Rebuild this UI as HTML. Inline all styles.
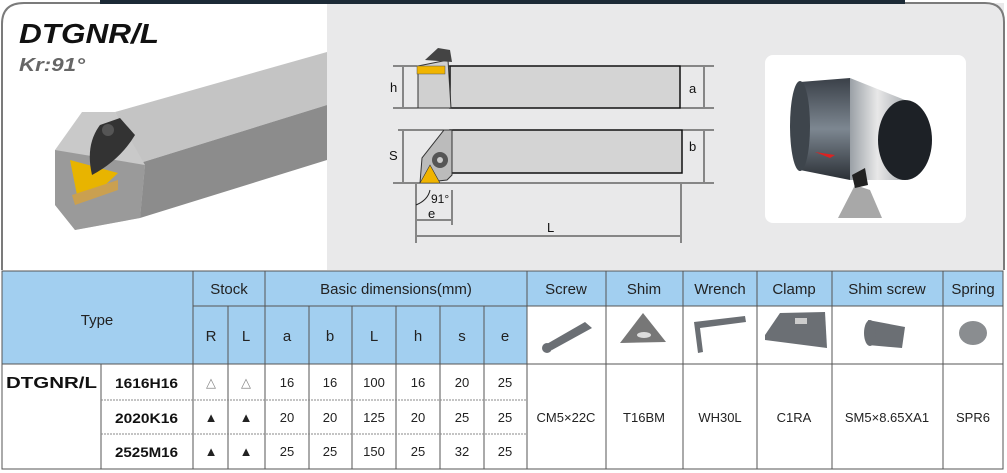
<!DOCTYPE html>
<html><head><meta charset="utf-8"><style>
html,body{margin:0;padding:0;background:#fff;}
body{width:1007px;height:473px;overflow:hidden;position:relative;font-family:"Liberation Sans",sans-serif;}
svg{position:absolute;left:0;top:0;}
</style></head><body>
<svg width="1007" height="473" viewBox="0 0 1007 473" font-family="Liberation Sans, sans-serif">
<defs>
<linearGradient id="cyl" x1="0" y1="0" x2="0" y2="1"><stop offset="0" stop-color="#3a4048"/><stop offset="0.5" stop-color="#7d8791"/><stop offset="1" stop-color="#2b3036"/></linearGradient>
<linearGradient id="cyl2" x1="0" y1="0" x2="1" y2="0"><stop offset="0" stop-color="#9aa0a6"/><stop offset="0.5" stop-color="#e8e8e8"/><stop offset="1" stop-color="#aeb2b6"/></linearGradient>
</defs>
<rect x="327" y="3" width="677" height="267" fill="#e9e9ea"/>
<path d="M2 270 V24 Q2 3 24 3 H327" fill="none" stroke="#7b7b7b" stroke-width="2"/>
<path d="M905 3 H985 Q1004 3 1004 22 V270" fill="none" stroke="#7b7b7b" stroke-width="2"/>
<rect x="100" y="0" width="805" height="4" fill="#1c2a36"/>
<text x="19" y="43" font-size="28" font-weight="bold" font-style="italic" fill="#111" textLength="140" lengthAdjust="spacingAndGlyphs">DTGNR/L</text>
<text x="19" y="71" font-size="18" font-weight="bold" font-style="italic" fill="#666" textLength="66" lengthAdjust="spacingAndGlyphs">Kr:91°</text>
<polygon points="115,112 327,52 327,105 140,163" fill="#c4c4c4"/>
<polygon points="140,163 327,105 327,160 140,218" fill="#8c8c8c"/>
<polygon points="55,150 82,112 115,112 145,165 140,218 75,230 55,205" fill="#c9c9c9"/>
<polygon points="55,150 145,165 140,218 75,230 55,205" fill="#9a9a9a"/>
<polygon points="70,160 118,173 100,190 78,200" fill="#e8b400"/>
<polygon points="72,195 118,180 118,190 75,205" fill="#caa050"/>
<path d="M92,175 Q85,145 100,125 L120,118 L135,135 Q120,160 92,175Z" fill="#333"/>
<circle cx="108" cy="130" r="6" fill="#555"/>
<g stroke="#222" stroke-width="1" fill="none">
<line x1="393" y1="66" x2="714" y2="66"/><line x1="393" y1="108" x2="714" y2="108"/>
<line x1="398" y1="130" x2="714" y2="130"/><line x1="393" y1="183" x2="714" y2="183"/>
<line x1="403" y1="67" x2="403" y2="107"/><line x1="704" y1="67" x2="704" y2="107"/>
<line x1="403" y1="131" x2="403" y2="182"/><line x1="704" y1="131" x2="704" y2="182"/>
<line x1="416" y1="184" x2="416" y2="243"/><line x1="681" y1="184" x2="681" y2="243"/>
<line x1="452" y1="190" x2="452" y2="225"/>
<line x1="417" y1="220" x2="451" y2="220"/><line x1="417" y1="236" x2="680" y2="236"/>
<path d="M416,205 Q428,200 430,190"/>
</g>
<rect x="450" y="66" width="230" height="42" fill="#d4d4d4" stroke="#111" stroke-width="1.5"/>
<polygon points="418,66 448,60 451,108 418,108" fill="#d0d0d0" stroke="#333"/>
<rect x="417" y="66" width="28" height="8" fill="#f0b400" stroke="#555" stroke-width="0.5"/>
<path d="M425,60 L438,48 L450,50 L452,62 Z" fill="#444"/>
<rect x="450" y="130" width="232" height="43" fill="#d4d4d4" stroke="#111" stroke-width="1.5"/>
<polygon points="444,130 452,130 452,175 447,180 420,183 422,158" fill="#bbb" stroke="#333"/>
<polygon points="420,183 430,165 440,183" fill="#f0b400" stroke="#333" stroke-width="0.6"/>
<circle cx="440" cy="160" r="8" fill="#555"/><circle cx="440" cy="160" r="3" fill="#ccc"/>
<g font-size="13" fill="#111">
<text x="390" y="92">h</text><text x="689" y="93">a</text>
<text x="389" y="160">S</text><text x="689" y="151">b</text>
<text x="431" y="203" font-size="12">91°</text><text x="428" y="218">e</text><text x="547" y="232">L</text>
</g>
<rect x="765" y="55" width="201" height="168" rx="8" fill="#fff"/>
<path d="M800,82 L850,78 L850,180 L800,170 Z" fill="url(#cyl)"/>
<ellipse cx="800" cy="126" rx="10" ry="45" fill="#3e454c"/>
<path d="M850,78 L905,100 L905,180 L850,180 Z" fill="url(#cyl2)"/>
<ellipse cx="905" cy="140" rx="27" ry="40" fill="#1d2126"/>
<polygon points="815,152 835,155 830,158" fill="#d22"/>
<polygon points="838,218 855,185 870,190 882,218" fill="#a8a8a8"/>
<polygon points="852,175 865,168 868,185 855,188" fill="#222"/>
<rect x="2" y="271" width="1001" height="93" fill="#a2cff0"/>
<rect x="527" y="306" width="476" height="58" fill="#fff"/>
<g stroke="#555" stroke-width="1">
<rect x="2" y="271" width="1001" height="198" fill="none"/>
<line x1="193" y1="306" x2="527" y2="306"/><line x1="527" y1="306" x2="1003" y2="306"/>
<line x1="2" y1="364" x2="1003" y2="364"/>
<line x1="193" y1="271" x2="193" y2="469"/><line x1="228" y1="306" x2="228" y2="469"/>
<line x1="265" y1="271" x2="265" y2="469"/>
<line x1="309" y1="306" x2="309" y2="469"/><line x1="352" y1="306" x2="352" y2="469"/>
<line x1="396" y1="306" x2="396" y2="469"/><line x1="440" y1="306" x2="440" y2="469"/>
<line x1="484" y1="306" x2="484" y2="469"/><line x1="527" y1="271" x2="527" y2="469"/>
<line x1="606" y1="271" x2="606" y2="469"/><line x1="683" y1="271" x2="683" y2="469"/>
<line x1="757" y1="271" x2="757" y2="469"/><line x1="832" y1="271" x2="832" y2="469"/>
<line x1="943" y1="271" x2="943" y2="469"/>
<line x1="101" y1="364" x2="101" y2="469"/>
</g>
<g stroke="#888" stroke-dasharray="2,1">
<line x1="101" y1="400" x2="527" y2="400"/><line x1="101" y1="434" x2="527" y2="434"/>
</g>
<g font-size="15" fill="#222" text-anchor="middle">
<text x="97" y="325">Type</text><text x="229" y="294">Stock</text><text x="396" y="294">Basic dimensions(mm)</text>
<text x="566" y="294">Screw</text><text x="644" y="294">Shim</text><text x="720" y="294">Wrench</text>
<text x="794" y="294">Clamp</text><text x="887" y="294">Shim screw</text><text x="973" y="294">Spring</text>
<text x="211" y="341">R</text><text x="246" y="341">L</text><text x="287" y="341">a</text><text x="330" y="341">b</text>
<text x="374" y="341">L</text><text x="418" y="341">h</text><text x="462" y="341">s</text><text x="505" y="341">e</text>
</g>
<g font-size="13" fill="#222" text-anchor="middle">
<text x="287" y="387">16</text><text x="330" y="387">16</text><text x="374" y="387">100</text><text x="418" y="387">16</text><text x="462" y="387">20</text><text x="505" y="387">25</text>
<text x="287" y="422">20</text><text x="330" y="422">20</text><text x="374" y="422">125</text><text x="418" y="422">20</text><text x="462" y="422">25</text><text x="505" y="422">25</text>
<text x="287" y="456">25</text><text x="330" y="456">25</text><text x="374" y="456">150</text><text x="418" y="456">25</text><text x="462" y="456">32</text><text x="505" y="456">25</text>
<text x="566" y="422">CM5×22C</text><text x="644" y="422">T16BM</text><text x="720" y="422">WH30L</text>
<text x="794" y="422">C1RA</text><text x="887" y="422">SM5×8.65XA1</text><text x="973" y="422">SPR6</text>
<text x="211" y="387" fill="#888">△</text><text x="246" y="387" fill="#888">△</text>
<text x="211" y="422">▲</text><text x="246" y="422">▲</text><text x="211" y="456">▲</text><text x="246" y="456">▲</text>
</g>
<g font-size="14" font-weight="bold" fill="#111">
<text x="6" y="388" font-size="16" textLength="91" lengthAdjust="spacingAndGlyphs">DTGNR/L</text>
<text x="115" y="388" textLength="63" lengthAdjust="spacingAndGlyphs">1616H16</text><text x="115" y="423" textLength="63" lengthAdjust="spacingAndGlyphs">2020K16</text><text x="115" y="457" textLength="63" lengthAdjust="spacingAndGlyphs">2525M16</text>
</g>
<g fill="#6b6f74">
<path d="M545,345 L585,322 L592,328 L552,350 Z"/><circle cx="547" cy="348" r="5"/>
<polygon points="643,313 666,342 620,343" fill="#777"/><ellipse cx="644" cy="335" rx="7" ry="3" fill="#ddd"/>
<path d="M694,322 L745,316 L746,322 L700,328 L703,352 L698,353 Z"/>
<path d="M765,335 L780,313 L825,312 L827,348 L765,340 Z"/><rect x="795" y="318" width="12" height="6" fill="#ccc"/>
<path d="M868,320 L905,327 L902,348 L868,345 Z"/><ellipse cx="870" cy="333" rx="6" ry="13"/>
<ellipse cx="973" cy="333" rx="14" ry="12" fill="#8a8d90"/>
</g>
</svg>
</body></html>
